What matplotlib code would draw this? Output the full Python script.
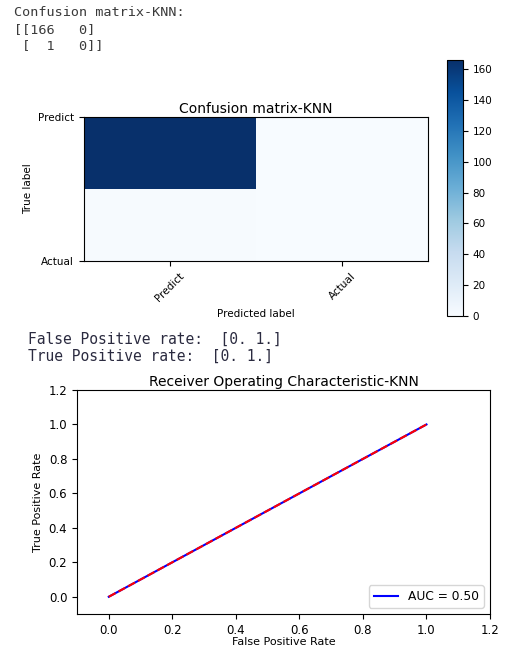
import matplotlib
matplotlib.use("Agg")
import matplotlib.pyplot as plt
import numpy as np

classes = ["Predict", "Actual"]
cm = np.array([[166, 0], [1, 0]])
fpr = [0.0, 1.0]
tpr = [0.0, 1.0]
roc_auc = 0.50
header_lines = ["Confusion matrix-KNN:", "[[166   0]", " [  1   0]]"]
rate_lines = ["False Positive rate:  [0. 1.]", "True Positive rate:  [0. 1.]"]

W, H = 519, 646
fig = plt.figure(figsize=(W / 100, H / 100), dpi=100)

def ax_rect(l, t, r, b):
    return [l / W, 1 - b / H, (r - l) / W, (b - t) / H]

# printed text
mono = "DejaVu Sans Mono"
for i, s in enumerate(header_lines):
    fig.text(14 / W, 1 - (13 + i * 16.5) / H, s, family=mono, fontsize=9.7,
             color="#3a3a3a", va="center", ha="left")
for i, s in enumerate(rate_lines):
    fig.text(28 / W, 1 - (339 + i * 17) / H, s, family=mono, fontsize=10.5,
             color="#2b2b40", va="center", ha="left")

# confusion matrix
ax1 = fig.add_axes(ax_rect(84, 117, 428, 261))
im = ax1.imshow(cm, interpolation="nearest", cmap=plt.cm.Blues, aspect="auto")
ax1.set_title("Confusion matrix-KNN", fontsize=10, pad=3)
ax1.set_xticks(np.arange(len(classes)))
ax1.set_xticklabels(classes, rotation=45, fontsize=7.5)
ax1.set_yticks(np.arange(len(classes)))
ax1.set_yticklabels(classes, fontsize=7.5)
ax1.set_ylim(1, 0)
ax1.set_ylabel("True label", fontsize=7.5)
ax1.set_xlabel("Predicted label", fontsize=7.5)

cax = fig.add_axes(ax_rect(447, 60, 463, 316))
cb = fig.colorbar(im, cax=cax)
cb.set_ticks(np.arange(0, 161, 20))
cax.tick_params(labelsize=7.5)

# ROC
ax2 = fig.add_axes(ax_rect(77, 390, 490, 614))
ax2.set_title("Receiver Operating Characteristic-KNN", fontsize=10, pad=3)
ax2.plot(fpr, tpr, "b", label="AUC = %0.2f" % roc_auc)
ax2.legend(loc="lower right", fontsize=8.8)
ax2.plot([0, 1], [0, 1], "r--")
ax2.set_xlim([-0.1, 1.2])
ax2.set_ylim([-0.1, 1.2])
ax2.set_xticks(np.arange(0, 1.21, 0.2))
ax2.set_yticks(np.arange(0, 1.21, 0.2))
ax2.tick_params(labelsize=8.5)
ax2.set_ylabel("True Positive Rate", fontsize=8)
ax2.set_xlabel("False Positive Rate", fontsize=8, labelpad=0)

fig.savefig("out.png", dpi=100)
